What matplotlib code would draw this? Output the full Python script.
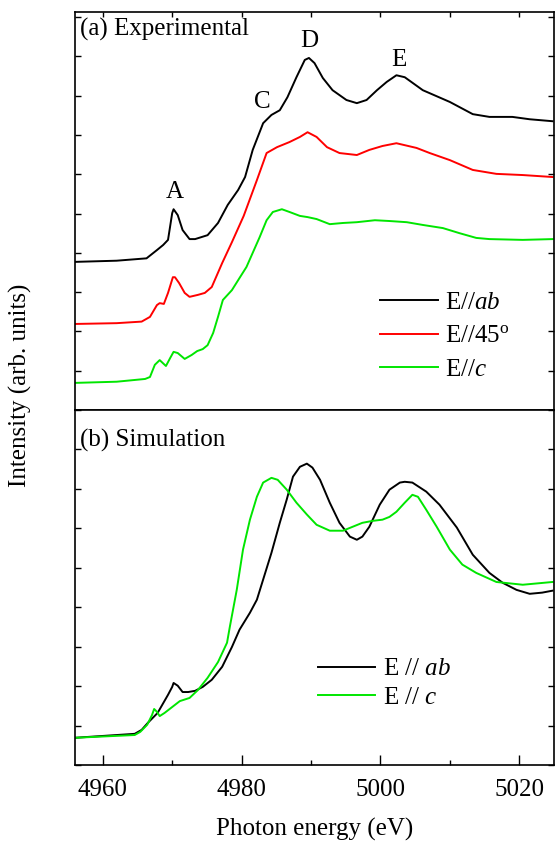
import numpy as np
import matplotlib
matplotlib.use('Agg')
import matplotlib.pyplot as plt
from matplotlib.ticker import MultipleLocator, NullFormatter

plt.rcParams['font.family'] = ['Liberation Serif', 'DejaVu Serif']
plt.rcParams['mathtext.fontset'] = 'custom'
plt.rcParams['mathtext.rm'] = 'Liberation Serif'
plt.rcParams['mathtext.it'] = 'Liberation Serif:italic'

# (a) experimental spectra (offset, arb. units)
exp_ab_x = [4956.0, 4962.0, 4966.3, 4967.8, 4968.7, 4969.4, 4970.0, 4970.2, 4970.8, 4971.5,
            4972.5, 4973.3, 4975.1, 4976.6, 4978.0, 4979.5, 4980.5, 4981.6, 4983.1, 4984.3,
            4985.5, 4986.6, 4987.9, 4989.1, 4989.7, 4990.5, 4991.7, 4993.1, 4995.1, 4996.6,
            4998.0, 4999.5, 5000.9, 5002.3, 5003.5, 5006.1, 5010.0, 5013.3, 5015.7, 5019.0,
            5021.5, 5024.8]
exp_ab_y = [3.77, 3.80, 3.86, 4.07, 4.20, 4.33, 5.01, 5.11, 4.96, 4.58,
            4.35, 4.35, 4.45, 4.76, 5.22, 5.60, 5.93, 6.62, 7.30, 7.51,
            7.63, 7.96, 8.47, 8.91, 8.96, 8.83, 8.45, 8.14, 7.89, 7.81,
            7.89, 8.14, 8.35, 8.52, 8.47, 8.14, 7.84, 7.53, 7.46, 7.46,
            7.40, 7.35]

exp_45_x = [4956.0, 4962.0, 4965.6, 4966.8, 4967.8, 4968.2, 4968.8, 4969.4, 4970.1, 4970.4,
            4971.0, 4971.8, 4972.5, 4973.7, 4974.7, 4975.7, 4977.2, 4978.6, 4980.3, 4982.2,
            4983.6, 4985.1, 4986.9, 4988.4, 4989.5, 4990.8, 4992.3, 4994.1, 4996.6, 4998.4,
            5000.3, 5002.3, 5005.2, 5007.1, 5010.0, 5013.3, 5016.7, 5020.5, 5024.8]
exp_45_y = [2.19, 2.21, 2.25, 2.37, 2.67, 2.72, 2.70, 2.98, 3.38, 3.38,
            3.23, 2.98, 2.88, 2.93, 2.98, 3.13, 3.74, 4.27, 4.94, 5.85,
            6.54, 6.69, 6.82, 6.95, 7.07, 6.95, 6.69, 6.54, 6.49, 6.62,
            6.72, 6.79, 6.67, 6.54, 6.36, 6.11, 6.01, 5.98, 5.93]

exp_c_x = [4956.0, 4962.0, 4966.1, 4966.8, 4967.5, 4968.2, 4969.1, 4969.7, 4970.2, 4970.8,
           4971.8, 4972.8, 4973.6, 4974.4, 4975.1, 4975.9, 4976.6, 4977.3, 4978.6, 4979.7,
           4980.7, 4981.6, 4982.6, 4983.6, 4984.5, 4985.8, 4986.9, 4988.4, 4989.5, 4990.8,
           4992.7, 4994.6, 4996.6, 4999.2, 5001.3, 5003.8, 5006.1, 5009.0, 5011.4, 5013.8,
           5015.7, 5020.5, 5024.8]
exp_c_y = [0.69, 0.72, 0.79, 0.84, 1.15, 1.27, 1.12, 1.32, 1.48, 1.45,
           1.30, 1.40, 1.50, 1.55, 1.65, 1.96, 2.37, 2.80, 3.05, 3.36,
           3.64, 4.00, 4.40, 4.83, 5.04, 5.11, 5.04, 4.94, 4.91, 4.86,
           4.73, 4.76, 4.78, 4.83, 4.81, 4.78, 4.71, 4.63, 4.50, 4.38,
           4.35, 4.33, 4.35]

# (b) simulated spectra
sim_ab_x = [4956.0, 4964.6, 4965.6, 4966.5, 4967.9, 4969.4, 4970.0, 4970.2, 4970.8, 4971.5,
            4972.3, 4973.3, 4974.4, 4975.7, 4977.2, 4978.6, 4979.7, 4981.2, 4982.2, 4983.1,
            4984.3, 4985.5, 4986.5, 4987.4, 4988.4, 4989.4, 4990.2, 4991.3, 4992.7, 4994.1,
            4995.6, 4996.6, 4997.4, 4998.4, 4999.9, 5001.3, 5002.8, 5003.5, 5004.6, 5006.6,
            5008.5, 5011.0, 5013.3, 5015.7, 5017.6, 5019.6, 5021.5, 5023.3, 5024.8]
sim_ab_y = [0.69, 0.79, 0.89, 1.07, 1.32, 1.78, 1.98, 2.08, 2.01, 1.85,
            1.85, 1.88, 1.98, 2.16, 2.49, 2.99, 3.43, 3.86, 4.19, 4.70,
            5.38, 6.14, 6.73, 7.31, 7.56, 7.64, 7.54, 7.23, 6.65, 6.14,
            5.79, 5.71, 5.79, 6.04, 6.60, 6.98, 7.16, 7.18, 7.16, 6.93,
            6.60, 6.02, 5.33, 4.87, 4.62, 4.44, 4.34, 4.37, 4.42]

sim_c_x = [4956.0, 4964.6, 4965.4, 4966.4, 4967.1, 4967.4, 4967.8, 4968.2, 4968.9, 4970.0,
           4971.1, 4972.5, 4973.7, 4975.1, 4976.6, 4977.9, 4978.3, 4979.3, 4980.2, 4981.2,
           4982.2, 4983.1, 4984.3, 4985.2, 4986.5, 4987.9, 4989.4, 4990.8, 4992.7, 4994.6,
           4996.0, 4997.4, 4998.9, 5000.3, 5001.3, 5002.3, 5003.5, 5004.6, 5005.4, 5006.6,
           5008.1, 5010.0, 5011.8, 5013.8, 5016.7, 5020.5, 5024.8]
sim_c_y = [0.69, 0.76, 0.84, 1.02, 1.27, 1.42, 1.35, 1.24, 1.32, 1.47,
           1.62, 1.70, 1.90, 2.21, 2.61, 3.10, 3.50, 4.44, 5.46, 6.22,
           6.80, 7.16, 7.28, 7.23, 6.98, 6.65, 6.35, 6.09, 5.94, 5.94,
           6.04, 6.14, 6.19, 6.22, 6.29, 6.42, 6.65, 6.85, 6.80, 6.47,
           6.04, 5.46, 5.08, 4.87, 4.64, 4.57, 4.64]

peak_labels = ['A', 'C', 'D', 'E']
peak_x = [4970.3, 4983.0, 4989.8, 5002.7]
peak_y = [5.55, 7.85, 9.4, 8.9]

GREEN = '#00e600'
LW = 1.4
FS = 18

fig, (ax1, ax2) = plt.subplots(2, 1, figsize=(5.57, 8.43), dpi=100,
                               gridspec_kw={'height_ratios': [398, 355]})
fig.subplots_adjust(left=75/557, right=554/557, top=1-12/843, bottom=1-765/843, hspace=0)

ax1.plot(exp_ab_x, exp_ab_y, color='black', lw=LW, label=r'E//$\it{ab}$')
ax1.plot(exp_45_x, exp_45_y, color='red', lw=LW, label=r'E//45$^{\rm o}$')
ax1.plot(exp_c_x, exp_c_y, color=GREEN, lw=LW, label=r'E//$\it{c}$')
for lab, px, py in zip(peak_labels, peak_x, peak_y):
    ax1.text(px, py, lab, fontsize=FS, ha='center', va='center')
ax1.text(0.011, 0.955, '(a) Experimental', transform=ax1.transAxes, fontsize=FS,
         ha='left', va='center')
ax1.legend(loc='upper left', bbox_to_anchor=(0.616, 0.324), frameon=False, fontsize=FS,
           handlelength=2.3, handletextpad=0.3, labelspacing=0.45, borderaxespad=0)

ax2.plot(sim_ab_x, sim_ab_y, color='black', lw=LW, label=r'E // $\it{ab}$')
ax2.plot(sim_c_x, sim_c_y, color=GREEN, lw=LW, label=r'E // $\it{c}$')
ax2.text(0.011, 0.915, '(b) Simulation', transform=ax2.transAxes, fontsize=FS,
         ha='left', va='center')
ax2.legend(loc='upper left', bbox_to_anchor=(0.486, 0.33), frameon=False, fontsize=FS,
           handlelength=2.3, handletextpad=0.3, labelspacing=0.25, borderaxespad=0)

ax1.set_ylim(0, 10.13)
ax2.set_ylim(0, 9.0)
for ax in (ax1, ax2):
    ax.set_xlim(4956, 5025)
    ax.yaxis.set_major_locator(MultipleLocator(1))
    ax.yaxis.set_major_formatter(NullFormatter())
    ax.tick_params(axis='y', which='both', direction='in', left=True, right=True,
                   length=4.5, width=1)
    for s in ax.spines.values():
        s.set_linewidth(1.2)

ax1.xaxis.set_major_locator(MultipleLocator(10))
ax1.tick_params(axis='x', which='both', direction='in', top=True, bottom=False,
                labelbottom=False, length=3.8, width=1)
ax2.xaxis.set_major_locator(MultipleLocator(20))
ax2.xaxis.set_minor_locator(MultipleLocator(10))
ax2.tick_params(axis='x', which='major', direction='in', top=False, bottom=True,
                length=7, width=1, labelsize=FS, pad=10)
ax2.tick_params(axis='x', which='minor', direction='in', top=False, bottom=True,
                length=3.8, width=1)
ax2.set_xlabel('Photon energy (eV)', fontsize=FS, labelpad=12)

fig.text(20/557, 1-385/843, 'Intensity (arb. units)', rotation=90, fontsize=FS,
         ha='center', va='center')

fig.savefig('out.png', dpi=100)
